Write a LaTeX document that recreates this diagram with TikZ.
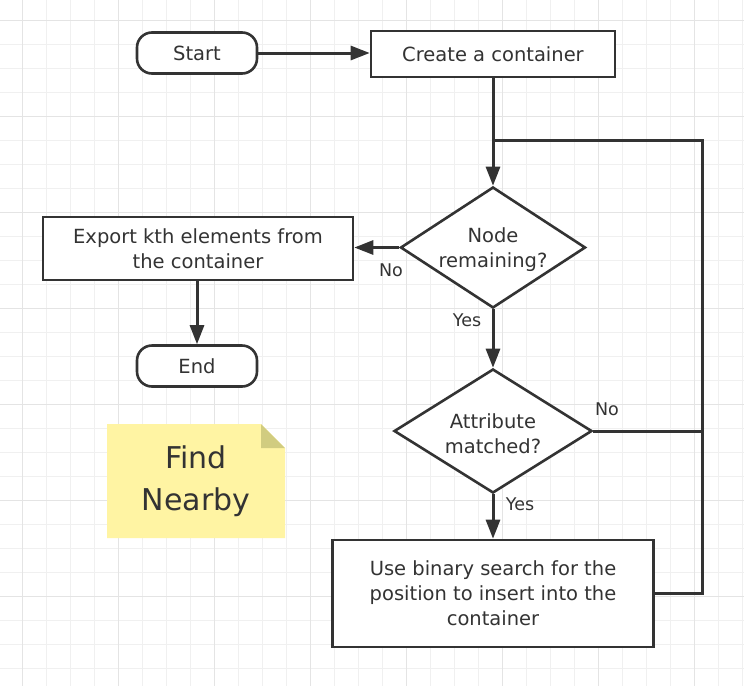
\documentclass[tikz,border=0pt]{standalone}
\usepackage{fontspec}
\setmainfont{DejaVu Sans}
\usetikzlibrary{shapes.geometric,arrows.meta}
\definecolor{ink}{HTML}{333333}
\definecolor{gridminor}{HTML}{F0F0F0}
\definecolor{gridmajor}{HTML}{E4E4E4}
\definecolor{notefill}{HTML}{FFF4A3}
\definecolor{notefold}{HTML}{D1CC80}
\tikzset{
  box/.style={draw=ink, line width=2.6pt, fill=white, text=ink, inner sep=0pt, align=center,
    font=\fontsize{19.5}{25}\selectfont},
  term/.style={box, rounded corners=15pt},
  dec/.style={draw=ink, line width=2.6pt, fill=white, diamond, inner sep=0pt, shape aspect=1.53},
  dectext/.style={text=ink, inner sep=0pt, align=center, font=\fontsize{19.5}{25}\selectfont},
  flow/.style={draw=ink, line width=3pt, -{Triangle[length=19pt,width=14pt]}},
  plain/.style={draw=ink, line width=3pt},
  lbl/.style={text=ink, inner sep=0pt, font=\fontsize{17.5}{21}\selectfont},
}
\begin{document}
\begin{tikzpicture}[x=1pt,y=-1pt]
\useasboundingbox (0,0) rectangle (744,686);
\fill[white] (0,0) rectangle (744,686);
% grid
\foreach \i in {0,...,30} {\draw[gridminor, line width=1pt] ({22+24*\i},0) -- ({22+24*\i},686);}
\foreach \j in {0,...,27} {\draw[gridminor, line width=1pt] (0,{20.7+24*\j}) -- (744,{20.7+24*\j});}
\foreach \i in {0,4,...,28} {\draw[gridmajor, line width=1pt] ({22+24*\i},0) -- ({22+24*\i},686);}
\foreach \j in {0,4,...,24} {\draw[gridmajor, line width=1pt] (0,{20.7+24*\j}) -- (744,{20.7+24*\j});}

% sticky note
\fill[notefill] (107,424) -- (261,424) -- (285,448) -- (285,538) -- (107,538) -- cycle;
\fill[notefold] (261,424) -- (285,448) -- (261,448) -- cycle;
\node[text=ink, align=center, font=\fontsize{30}{42}\selectfont] (note) at (196,481) {Find\\Nearby};

% nodes
\node[term, minimum width=120pt, minimum height=41pt] (start) at (197,53) {Start};
\node[box, minimum width=244pt, minimum height=46pt] (create) at (493,54) {Create a container};
\node[dec, minimum width=185pt, minimum height=121pt] (d1) at (493,247.5) {};
\node[dectext] (d1t) at (493,250) {Node\\remaining?};
\node[box, minimum width=310pt, minimum height=63pt] (export) at (198,248.5) {Export kth elements from\\the container};
\node[term, minimum width=120pt, minimum height=41pt] (end) at (197,366) {End};
\node[dec, minimum width=198pt, minimum height=124pt] (d2) at (493,431) {};
\node[dectext] (d2t) at (493,434) {Attribute\\matched?};
\node[box, minimum width=321pt, minimum height=107pt] (bin) at (493,593.5) {Use binary search for the\\position to insert into the\\container};
\coordinate (loopR) at (702,140);

% connectors
\draw[flow] (start.east) -- (start.east -| create.west);
\draw[flow] (create.south) -- (d1.north);
\draw[flow] (d1.west) -- (d1.west -| export.east);
\draw[flow] (export.south -| end.north) -- (end.north);
\draw[flow] (d1.south) -- (d2.north);
\draw[flow] (d2.south) -- (bin.north);
\draw[plain] (bin.east) -| (loopR) -- (loopR -| d1.north);
\draw[plain] (d2.east) -- (d2.east -| loopR);

% labels
\node[lbl] (no1) at (391,270) {No};
\node[lbl] (yes1) at (467,320) {Yes};
\node[lbl] (no2) at (607,409) {No};
\node[lbl] (yes2) at (520,504) {Yes};
\end{tikzpicture}
\end{document}
